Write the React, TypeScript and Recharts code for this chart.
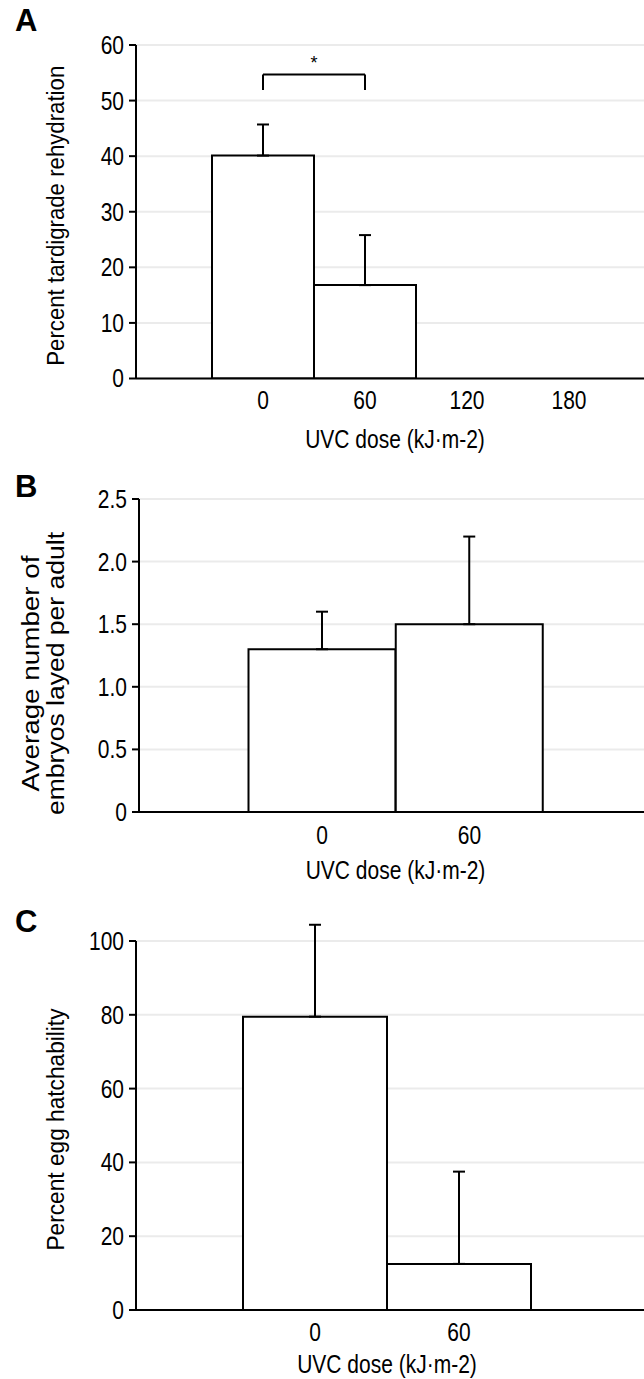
import { BarChart, Bar, XAxis, YAxis, CartesianGrid, ErrorBar, ReferenceLine, Label } from "recharts";

const FONT = "'Liberation Sans', Arial, sans-serif";
const STRETCH = 1.2; // the source figure is a bit taller than it is wide

// A: tardigrade rehydration
const dosesA = ["0", "60", "120", "180"];
const rehydrationMean = [40.1, 16.8, 0, 0];
const rehydrationErr = [5.6, 9.0, 0, 0];
const ticksA = [0, 10, 20, 30, 40, 50, 60];
const bracketPair = ["0", "60"];
const bracketLevels = [51.9, 54.7]; // leg bottom, bracket top

// B: embryos laid per adult
const dosesB = ["0", "60"];
const embryoMean = [1.3, 1.5];
const embryoErr = [0.3, 0.7];
const ticksB = [0, 0.5, 1, 1.5, 2, 2.5];

// C: egg hatchability
const dosesC = ["0", "60"];
const hatchMean = [79.5, 12.5];
const hatchErr = [24.9, 25];
const ticksC = [0, 20, 40, 60, 80, 100];

const xTitle = "UVC dose (kJ·m-2)";

const toRows = (doses: string[], mean: number[], err: number[]) =>
  doses.map((d, i) => ({ dose: d, mean: mean[i], err: [0, err[i]] }));

const Tick = ({ x, y, payload, textAnchor, fmt, shiftY }: any) => (
  <g transform={`translate(${x},${y + shiftY}) scale(1,${STRETCH})`}>
    <text textAnchor={textAnchor} dy="0.355em" fontSize={21} fill="#000" fontFamily={FONT}>
      {fmt ? fmt(payload.value) : payload.value}
    </text>
  </g>
);

const YTitle = ({ viewBox, lines, x, dy, lengths }: any) => {
  const cy = viewBox.y + viewBox.height / 2 + dy;
  return (
    <text transform={`translate(${x},${cy}) rotate(-90)`} textAnchor="middle" fontSize={23} fill="#000" fontFamily={FONT}>
      {lines.map((l: string, i: number) => (
        <tspan key={i} x={0} dy={i === 0 ? 0 : 25} textLength={lengths[i]} lengthAdjust="spacingAndGlyphs">
          {l}
        </tspan>
      ))}
    </text>
  );
};

const XTitle = ({ viewBox, below, dx }: any) => (
  <g transform={`translate(${viewBox.x + viewBox.width / 2 + dx},${viewBox.y + below}) scale(1,${STRETCH})`}>
    <text textAnchor="middle" dy="0.355em" fontSize={21} fill="#000" fontFamily={FONT}>
      {xTitle}
    </text>
  </g>
);

function Panel(props: any) {
  const {
    top, height, marginTop, yWidth, xHeight, pad, rows, domain, ticks, fmt,
    titleLines, titleX, titleDy, titleLengths, xBelow, xDx, tickBelow, children,
  } = props;
  return (
    <div style={{ position: "absolute", left: 0, top }}>
      <BarChart
        width={644}
        height={height}
        data={rows}
        margin={{ top: marginTop, right: 0, bottom: 0, left: 0 }}
        barCategoryGap={0}
        barGap={0}
        style={{ fontFamily: FONT }}
      >
        <CartesianGrid vertical={false} stroke="#ebebeb" strokeWidth={2} />
        <XAxis
          dataKey="dose"
          height={xHeight}
          padding={pad}
          axisLine={{ stroke: "#000", strokeWidth: 2 }}
          tickLine={false}
          tickSize={0}
          tickMargin={0}
          tick={<Tick shiftY={tickBelow} />}
        >
          <Label content={(p: any) => <XTitle {...p} below={xBelow} dx={xDx} />} />
        </XAxis>
        <YAxis
          width={yWidth}
          domain={domain}
          ticks={ticks}
          allowDataOverflow
          axisLine={{ stroke: "#000", strokeWidth: 2 }}
          tickLine={{ stroke: "#000", strokeWidth: 2 }}
          tickSize={7}
          tickMargin={5}
          tick={<Tick shiftY={0} fmt={fmt} />}
        >
          <Label content={(p: any) => <YTitle {...p} lines={titleLines} x={titleX} dy={titleDy} lengths={titleLengths} />} />
        </YAxis>
        <Bar dataKey="mean" fill="#fff" stroke="#000" strokeWidth={2} isAnimationActive={false}>
          <ErrorBar dataKey="err" direction="y" width={6} stroke="#000" strokeWidth={2} isAnimationActive={false} />
        </Bar>
        {children}
      </BarChart>
    </div>
  );
}

const letter = (ch: string, top: number) => (
  <div
    style={{ position: "absolute", left: 15, top, fontFamily: FONT, fontWeight: "bold", fontSize: 31, lineHeight: "31px" }}
  >
    {ch}
  </div>
);

export default function App() {
  return (
    <div style={{ position: "absolute", left: 0, top: 0, width: 644, height: 1379, background: "#fff" }}>
      {letter("A", 5)}
      {letter("B", 471)}
      {letter("C", 906)}

      <Panel
        top={0}
        height={460}
        marginTop={45}
        yWidth={136}
        xHeight={81.5}
        pad={{ left: 76, right: 24 }}
        rows={toRows(dosesA, rehydrationMean, rehydrationErr)}
        domain={[0, 60]}
        ticks={ticksA}
        fmt={(v: number) => String(v)}
        titleLines={["Percent tardigrade rehydration"]}
        titleLengths={[300]}
        titleX={64}
        titleDy={4}
        tickBelow={22}
        xBelow={61}
        xDx={5}
      >
        <ReferenceLine
          segment={[{ x: bracketPair[0], y: bracketLevels[1] }, { x: bracketPair[1], y: bracketLevels[1] }]}
          stroke="#000"
          strokeWidth={2}
          label={{ value: "*", position: "top", fontSize: 18, fill: "#000", offset: 5 }}
        />
        <ReferenceLine
          segment={[{ x: bracketPair[0], y: bracketLevels[0] }, { x: bracketPair[0], y: bracketLevels[1] }]}
          stroke="#000"
          strokeWidth={2}
        />
        <ReferenceLine
          segment={[{ x: bracketPair[1], y: bracketLevels[0] }, { x: bracketPair[1], y: bracketLevels[1] }]}
          stroke="#000"
          strokeWidth={2}
        />
      </Panel>

      <Panel
        top={460}
        height={432}
        marginTop={39}
        yWidth={139}
        xHeight={80}
        pad={{ left: 109.5, right: 101 }}
        rows={toRows(dosesB, embryoMean, embryoErr)}
        domain={[0, 2.5]}
        ticks={ticksB}
        fmt={(v: number) => (v === 0 ? "0" : v.toFixed(1))}
        titleLines={["Average number of", "embryos layed per adult"]}
        titleLengths={[236, 283]}
        titleX={39}
        titleDy={18}
        tickBelow={23}
        xBelow={58}
        xDx={4}
      />

      <Panel
        top={892}
        height={487}
        marginTop={49}
        yWidth={136}
        xHeight={69}
        pad={{ left: 107, right: 113 }}
        rows={toRows(dosesC, hatchMean, hatchErr)}
        domain={[0, 100]}
        ticks={ticksC}
        fmt={(v: number) => String(v)}
        titleLines={["Percent egg hatchability"]}
        titleLengths={[242]}
        titleX={64}
        titleDy={4}
        tickBelow={22}
        xBelow={54}
        xDx={-3}
      />
    </div>
  );
}
